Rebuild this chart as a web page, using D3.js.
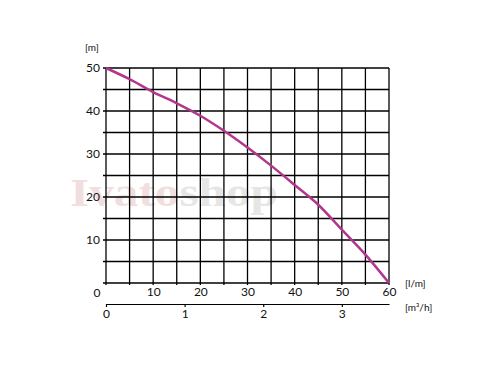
<!DOCTYPE html>
<html>
<head>
<meta charset="utf-8">
<script src="https://cdn.jsdelivr.net/npm/d3@7"></script>
<style>
  body { margin: 0; background: #fff; }
  text { font-family: Lato, "DejaVu Sans", sans-serif; fill: #111; }
</style>
</head>
<body>
<div id="chart"></div>
<script>
// Pump curve: flow (l/min) vs head (m)
var flowLpm = [0, 5, 10, 15, 20, 25, 30, 35, 40, 45, 50, 55, 60];
var headM = [50, 47.4, 44.4, 41.8, 38.9, 35.4, 31.5, 27.3, 22.8, 18.2, 12.4, 6.6, 0];
var flowTicks = [10, 20, 30, 40, 50, 60];
var headTicks = [10, 20, 30, 40, 50];
var m3hTicks = [0, 1, 2, 3];

var svgWidth = 496;
var svgHeight = 387;
var margin = { top: 68, left: 106 };
var width = 283;
var height = 215;

var svg = d3.select("#chart")
    .append("svg")
    .attr("width", svgWidth)
    .attr("height", svgHeight);

// watermark
var wm = svg.append("text")
    .attr("x", 70)
    .attr("y", 206)
    .attr("textLength", 208)
    .attr("lengthAdjust", "spacingAndGlyphs")
    .style("font-family", "'Liberation Serif', serif")
    .style("font-weight", "bold")
    .style("font-size", "40px");
wm.append("tspan").style("fill", "#f1dede").text("Ivato");
wm.append("tspan").style("fill", "#e6e6e6").text("shop");

var chartGroup = svg.append("g")
    .attr("transform", `translate(${margin.left}, ${margin.top})`);

var xScale = d3.scaleLinear().domain([0, 60]).range([0, width]);
var yScale = d3.scaleLinear().domain([0, 50]).range([height, 0]);

// grid
chartGroup.selectAll(".vgrid")
    .data(d3.range(0, 61, 5))
    .enter()
    .append("line")
    .attr("x1", d => xScale(d))
    .attr("x2", d => xScale(d))
    .attr("y1", 0)
    .attr("y2", height + 2)
    .attr("stroke", "#000")
    .attr("stroke-width", 1.3);

chartGroup.selectAll(".hgrid")
    .data(d3.range(0, 51, 5))
    .enter()
    .append("line")
    .attr("x1", -3)
    .attr("x2", width)
    .attr("y1", d => yScale(d))
    .attr("y2", d => yScale(d))
    .attr("stroke", "#000")
    .attr("stroke-width", 1.3);

// axis labels
var leftAxis = d3.axisLeft(yScale).tickValues(headTicks).tickSize(0).tickPadding(6);
chartGroup.append("g").call(leftAxis)
    .call(g => g.select(".domain").remove())
    .selectAll("text")
    .style("font-size", "12px");

var bottomAxis = d3.axisBottom(xScale).tickValues(flowTicks).tickSize(0).tickPadding(4);
chartGroup.append("g")
    .attr("transform", `translate(0, ${height})`)
    .call(bottomAxis)
    .call(g => g.select(".domain").remove())
    .selectAll("text")
    .style("font-size", "12px");

chartGroup.append("text")
    .attr("x", -9)
    .attr("y", height + 14)
    .attr("text-anchor", "middle")
    .style("font-size", "12px")
    .text("0");

// second axis in m3/h
var m3hScale = d3.scaleLinear()
    .domain([0, 3.6])
    .range([0, xScale(60)]);
var m3hAxis = d3.axisBottom(m3hScale)
    .tickValues(m3hTicks)
    .tickFormat(d3.format("d"))
    .tickSize(3).tickPadding(2).tickSizeOuter(0);
chartGroup.append("g")
    .attr("transform", `translate(0, ${height + 21})`)
    .call(m3hAxis)
    .call(g => g.selectAll("line, path").attr("stroke", "#000").attr("stroke-width", 1.2))
    .selectAll("text")
    .style("font-size", "12px");

// unit labels
chartGroup.append("text")
    .attr("x", -21).attr("y", -17)
    .style("font-size", "10px")
    .text("[m]");
chartGroup.append("text")
    .attr("x", width + 16).attr("y", height + 4)
    .style("font-size", "10px")
    .text("[l/m]");
chartGroup.append("text")
    .attr("x", width + 16).attr("y", height + 28)
    .style("font-size", "10px")
    .text("[m³/h]");

// curve
var line = d3.line()
    .x((d, i) => xScale(flowLpm[i]))
    .y(d => yScale(d))
    .curve(d3.curveMonotoneX);

chartGroup.append("path")
    .datum(headM)
    .attr("d", line)
    .attr("fill", "none")
    .attr("stroke", "#b2378c")
    .attr("stroke-width", 2.5);
</script>
</body>
</html>
